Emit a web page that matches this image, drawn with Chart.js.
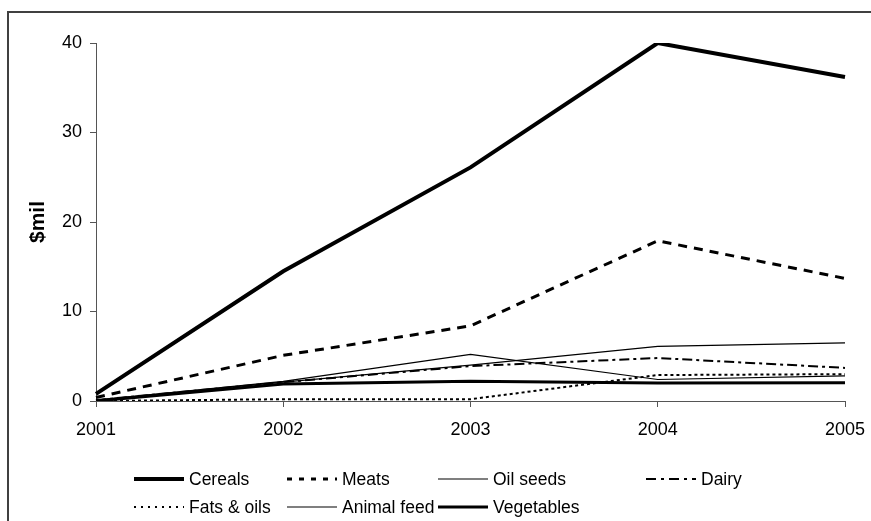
<!DOCTYPE html>
<html>
<head>
<meta charset="utf-8">
<script src="https://cdn.jsdelivr.net/npm/chart.js@4/dist/chart.umd.min.js"></script>
<style>
  html, body { margin: 0; padding: 0; background: #fff; }
  #wrap { width: 871px; height: 521px; }
</style>
</head>
<body>
<div id="wrap"><canvas id="c" width="871" height="521"></canvas></div>
<script>
// Food import values by year, $ million
const years = ['2001', '2002', '2003', '2004', '2005'];
const cereals = [0.8, 14.5, 26.1, 40.0, 36.2];
const meats = [0.4, 5.1, 8.4, 17.9, 13.7];
const oilSeeds = [0.1, 2.2, 5.2, 2.4, 2.8];
const dairy = [0.1, 2.1, 3.9, 4.8, 3.7];
const fatsOils = [0.0, 0.2, 0.2, 2.9, 3.0];
const animalFeed = [0.1, 2.1, 4.0, 6.1, 6.5];
const vegetables = [0.0, 1.9, 2.2, 2.0, 2.05];
const yTicks = [0, 10, 20, 30, 40];

const FONT = 'Liberation Sans, Arial, sans-serif';

function series(label, data, width, dash, legendDash) {
  return {
    label, data,
    borderColor: '#000',
    backgroundColor: '#000',
    borderWidth: width,
    borderDash: dash,
    legendDash: legendDash,
    borderJoinStyle: 'miter',
    pointRadius: 0,
    pointHoverRadius: 0,
    tension: 0,
    fill: false
  };
}

const datasets = [
  series('Cereals', cereals, 4, [], []),
  series('Meats', meats, 3, [9, 7], [5, 7]),
  series('Oil seeds', oilSeeds, 1.2, [], []),
  series('Dairy', dairy, 2, [10, 4, 3, 4], [10, 5, 3, 5]),
  series('Fats & oils', fatsOils, 2, [3, 3], [2, 5]),
  series('Animal feed', animalFeed, 1.2, [], []),
  series('Vegetables', vegetables, 3, [], [])
];

// Legend laid out in a fixed two-row grid under the plot
const legendSlots = [
  { x: 134, y: 479 }, { x: 287, y: 479 }, { x: 438, y: 479 }, { x: 646, y: 479 },
  { x: 134, y: 507 }, { x: 287, y: 507 }, { x: 438, y: 507 }
];
const SAMPLE_W = 50;

const framePlugin = {
  id: 'frame',
  beforeDraw(chart) {
    const ctx = chart.ctx;
    ctx.save();
    ctx.fillStyle = '#fff';
    ctx.fillRect(0, 0, chart.width, chart.height);
    ctx.strokeStyle = '#404040';
    ctx.lineWidth = 2;
    ctx.beginPath();
    ctx.moveTo(8, chart.height + 2);
    ctx.lineTo(8, 12);
    ctx.lineTo(chart.width + 2, 12);
    ctx.stroke();
    ctx.restore();
  }
};

const gridLegendPlugin = {
  id: 'gridLegend',
  afterDraw(chart) {
    const ctx = chart.ctx;
    ctx.save();
    chart.data.datasets.forEach((ds, i) => {
      const s = legendSlots[i];
      ctx.strokeStyle = ds.borderColor;
      ctx.lineWidth = ds.borderWidth;
      ctx.setLineDash(ds.legendDash || []);
      ctx.lineCap = 'butt';
      ctx.beginPath();
      ctx.moveTo(s.x, s.y);
      ctx.lineTo(s.x + SAMPLE_W, s.y);
      ctx.stroke();
      ctx.setLineDash([]);
      ctx.fillStyle = '#000';
      ctx.font = '17.5px ' + FONT;
      ctx.textBaseline = 'middle';
      ctx.textAlign = 'left';
      ctx.fillText(ds.label, s.x + SAMPLE_W + 5, s.y + 1);
    });
    ctx.restore();
  }
};

new Chart(document.getElementById('c'), {
  type: 'line',
  data: { labels: years, datasets },
  plugins: [framePlugin, gridLegendPlugin],
  options: {
    responsive: false,
    animation: false,
    events: [],
    layout: { padding: { left: 22, top: 43, right: 26, bottom: 0 } },
    plugins: {
      legend: { display: false },
      tooltip: { enabled: false }
    },
    scales: {
      x: {
        offset: false,
        afterFit(scale) {
          scale.height = 120;
          scale.paddingLeft = 0;
          scale.paddingRight = 0;
        },
        grid: { drawOnChartArea: false, drawTicks: true, tickLength: 6, color: '#555' },
        border: { display: true, color: '#555', width: 1 },
        ticks: {
          color: '#000',
          font: { family: FONT, size: 18 },
          padding: 12,
          maxRotation: 0,
          autoSkip: false
        }
      },
      y: {
        min: 0,
        max: 40,
        afterFit(scale) { scale.width = 74; },
        afterBuildTicks(scale) { scale.ticks = yTicks.map(v => ({ value: v })); },
        grid: { drawOnChartArea: false, drawTicks: true, tickLength: 6, color: '#555' },
        border: { display: true, color: '#555', width: 1 },
        ticks: {
          color: '#000',
          font: { family: FONT, size: 18 },
          padding: 8
        },
        title: {
          display: true,
          text: '$mil',
          color: '#000',
          font: { family: FONT, size: 21, weight: 'bold' },
          padding: { top: 4, bottom: 4 }
        }
      }
    }
  }
});
</script>
</body>
</html>
